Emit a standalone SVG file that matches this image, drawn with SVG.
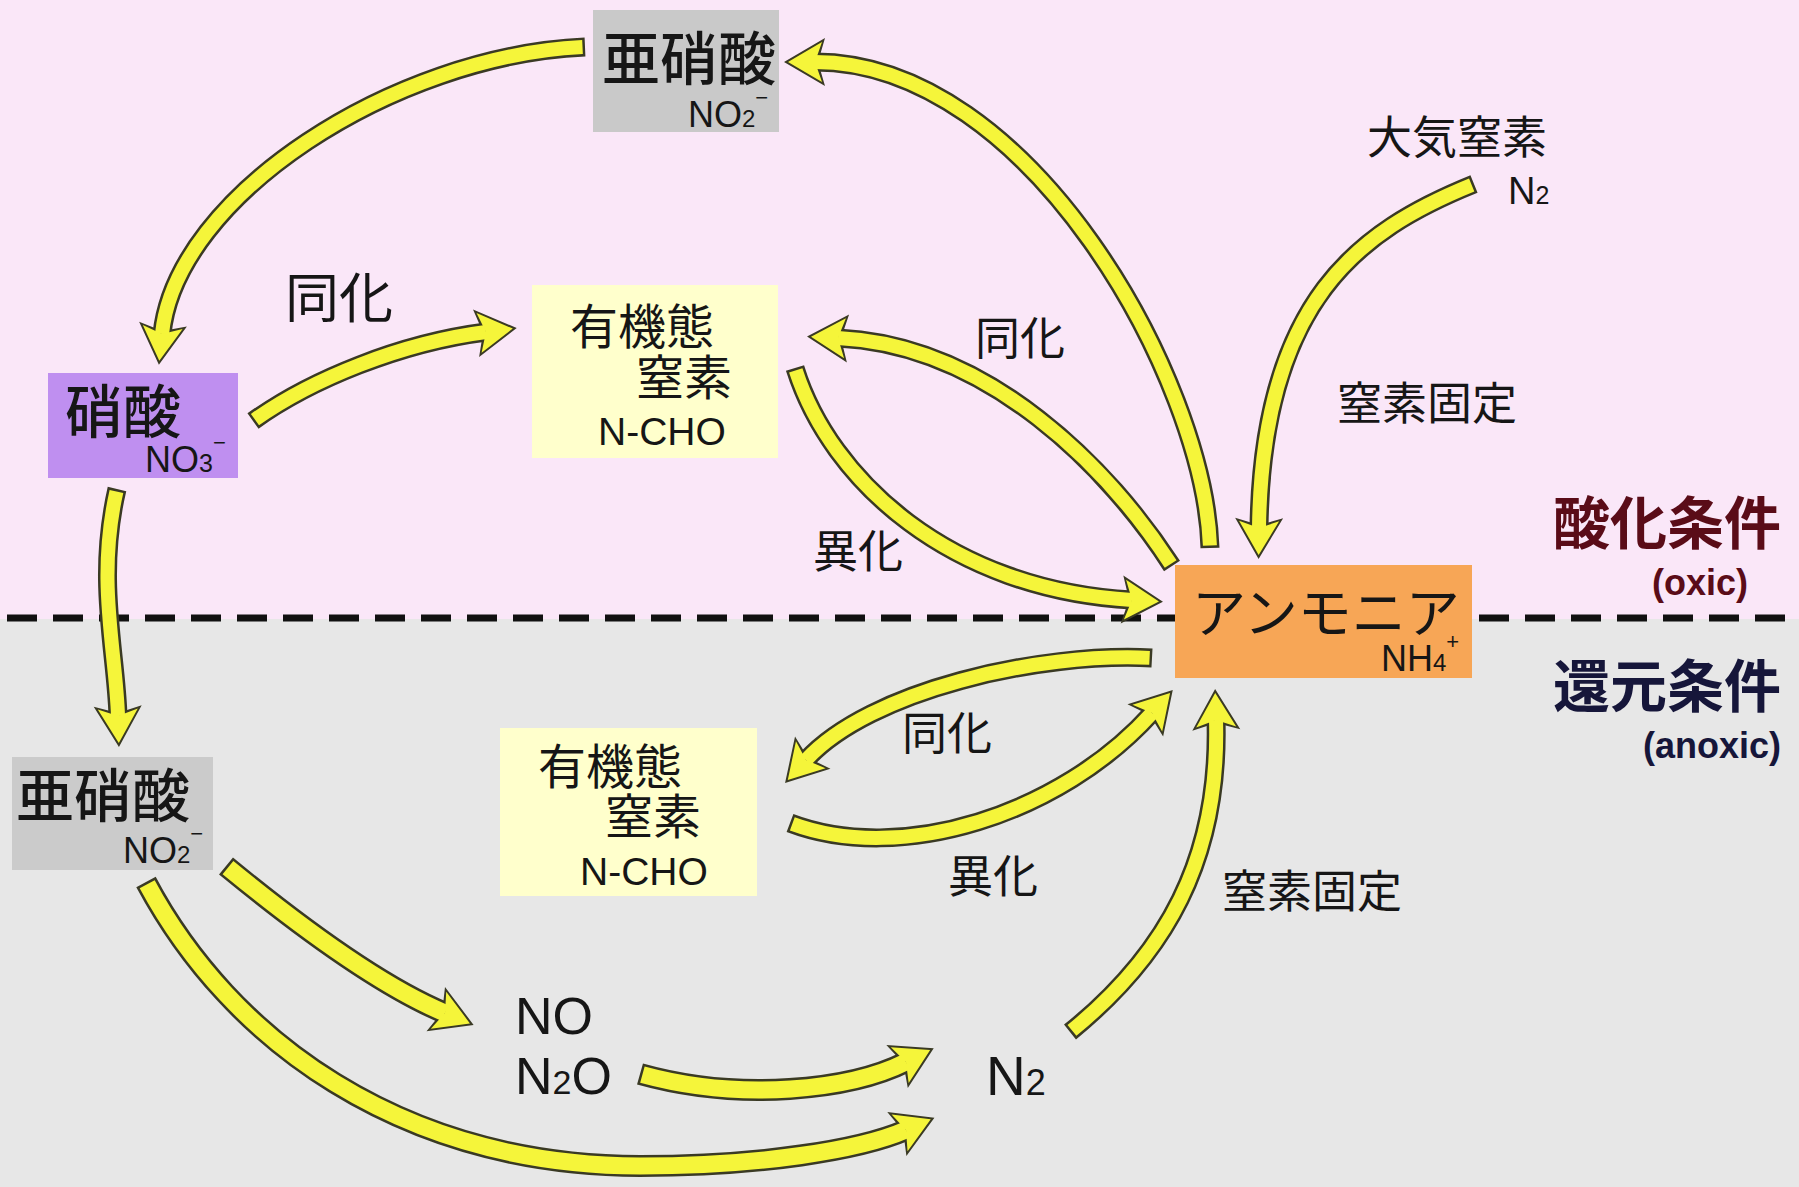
<svg xmlns="http://www.w3.org/2000/svg" width="1799" height="1187" viewBox="0 0 1799 1187">
<style>
.j{font-family:"Noto Sans CJK JP","Noto Sans CJK SC",sans-serif;fill:#161616}
.n{font-weight:500}
.l{font-family:"Liberation Sans",Arial,sans-serif;fill:#161616}
.o{fill:none;stroke:#3a3a24;stroke-width:19}
.i{fill:none;stroke:#f5f53a;stroke-width:14;stroke-dasharray:0 2.5 5000}
.t .o{stroke-width:22}
.t .i{stroke-width:17}
</style>
<defs>
<marker id="ho" viewBox="-8 -30 52 60" markerWidth="52" markerHeight="60" refX="7" refY="0" orient="auto" markerUnits="userSpaceOnUse" overflow="visible">
<path d="M-3,-24 L38,0 L-3,24 L4,0 Z" fill="#3a3a24"/>
</marker>
<marker id="hi" viewBox="-8 -30 52 60" markerWidth="52" markerHeight="60" refX="7" refY="0" orient="auto" markerUnits="userSpaceOnUse" overflow="visible">
<path d="M0,-20 L34,0 L0,20 L7,0 Z" fill="#f5f53a"/>
</marker>
</defs>

<g id="background">
<rect x="0" y="0" width="1799" height="619" fill="#fae7f8"/>
<rect x="0" y="619" width="1799" height="568" fill="#e7e7e7"/>
<line x1="0" y1="618" x2="1799" y2="618" stroke="#111" stroke-width="7" stroke-dasharray="30 16" stroke-dashoffset="-7"/>
</g>

<g id="connectors">
<g id="a-no2-no3"><path class="o" d="M585,47 C395,55 176,195 162,334" marker-end="url(#ho)"/><path class="i" d="M585,47 C395,55 176,195 162,334" marker-end="url(#hi)"/></g>
<g id="a-no3-org"><path class="o" d="M253,421 C310,380 400,343 486,332" marker-end="url(#ho)"/><path class="i" d="M253,421 C310,380 400,343 486,332" marker-end="url(#hi)"/></g>
<g id="a-no3-no2b"><path class="o" d="M117,489 C96,580 116,650 118,716" marker-end="url(#ho)"/><path class="i" d="M117,489 C96,580 116,650 118,716" marker-end="url(#hi)"/></g>
<g id="a-nh4-no2"><path class="o" d="M1210,548 C1205,380 1030,62 815,62" marker-end="url(#ho)"/><path class="i" d="M1210,548 C1205,380 1030,62 815,62" marker-end="url(#hi)"/></g>
<g id="a-n2-nh4"><path class="o" d="M1474,184 C1360,230 1262,300 1259,528" marker-end="url(#ho)"/><path class="i" d="M1474,184 C1360,230 1262,300 1259,528" marker-end="url(#hi)"/></g>
<g id="a-nh4-org"><path class="o" d="M1172,566 C1110,470 990,345 838,338" marker-end="url(#ho)"/><path class="i" d="M1172,566 C1110,470 990,345 838,338" marker-end="url(#hi)"/></g>
<g id="a-org-nh4"><path class="o" d="M795,368 C830,480 950,590 1132,600" marker-end="url(#ho)"/><path class="i" d="M795,368 C830,480 950,590 1132,600" marker-end="url(#hi)"/></g>
<g id="a-nh4-orgb"><path class="o" d="M1152,658 C1040,652 870,690 806,760" marker-end="url(#ho)"/><path class="i" d="M1152,658 C1040,652 870,690 806,760" marker-end="url(#hi)"/></g>
<g id="a-orgb-nh4"><path class="o" d="M790,823 C900,865 1060,815 1152,713" marker-end="url(#ho)"/><path class="i" d="M790,823 C900,865 1060,815 1152,713" marker-end="url(#hi)"/></g>
<g id="a-n2b-nh4"><path class="o" d="M1070,1032 C1165,955 1220,860 1216,720" marker-end="url(#ho)"/><path class="i" d="M1070,1032 C1165,955 1220,860 1216,720" marker-end="url(#hi)"/></g>
<g id="a-no2b-no" class="t"><path class="o" d="M226,866 C310,935 385,988 445,1013" marker-end="url(#ho)"/><path class="i" d="M226,866 C310,935 385,988 445,1013" marker-end="url(#hi)"/></g>
<g id="a-no2b-n2" class="t"><path class="o" d="M146,882 C230,1040 400,1165 640,1166 C760,1166 860,1150 906,1130" marker-end="url(#ho)"/><path class="i" d="M146,882 C230,1040 400,1165 640,1166 C760,1166 860,1150 906,1130" marker-end="url(#hi)"/></g>
<g id="a-n2o-n2" class="t"><path class="o" d="M640,1074 C740,1102 850,1090 906,1062" marker-end="url(#ho)"/><path class="i" d="M640,1074 C740,1102 850,1090 906,1062" marker-end="url(#hi)"/></g>
</g>

<g id="node-nitrite-top">
<rect x="593" y="10" width="186" height="122" fill="#c9c9c9"/>
<text class="j n" x="602" y="80" font-size="58">亜硝酸</text>
<text class="l" x="688" y="127" font-size="36">NO<tspan font-size="24">2</tspan><tspan font-size="22" dy="-22">−</tspan></text>
</g>

<g id="node-nitrate">
<rect x="48" y="373" width="190" height="105" fill="#bf8ff0"/>
<text class="j n" x="65" y="433" font-size="58">硝酸</text>
<text class="l" x="145" y="472" font-size="36">NO<tspan font-size="25">3</tspan><tspan font-size="22" dy="-22">−</tspan></text>
</g>

<g id="node-organic-top">
<rect x="532" y="285" width="246" height="173" fill="#ffffcc"/>
<text class="j" x="570" y="344" font-size="48">有機態</text>
<text class="j" x="636" y="395" font-size="48">窒素</text>
<text class="l" x="598" y="445" font-size="39">N-CHO</text>
</g>

<g id="node-ammonia">
<rect x="1175" y="565" width="297" height="113" fill="#f7a656"/>
<text class="j" x="1192" y="633" font-size="54">アンモニア</text>
<text class="l" x="1381" y="671" font-size="36">NH<tspan font-size="24">4</tspan><tspan font-size="22" dy="-22">+</tspan></text>
</g>

<g id="node-nitrite-bottom">
<rect x="12" y="757" width="201" height="113" fill="#cbcbcb"/>
<text class="j n" x="16" y="817" font-size="58">亜硝酸</text>
<text class="l" x="123" y="863" font-size="36">NO<tspan font-size="24">2</tspan><tspan font-size="22" dy="-22">−</tspan></text>
</g>

<g id="node-organic-bottom">
<rect x="500" y="728" width="257" height="168" fill="#ffffcc"/>
<text class="j" x="538" y="784" font-size="48">有機態</text>
<text class="j" x="605" y="834" font-size="48">窒素</text>
<text class="l" x="580" y="885" font-size="39">N-CHO</text>
</g>

<g id="node-atm-n2">
<text class="j" x="1367" y="154" font-size="45">大気窒素</text>
<text class="l" x="1508" y="204" font-size="38">N<tspan font-size="25">2</tspan></text>
</g>

<g id="node-no-n2o">
<text class="l" x="515" y="1034" font-size="52">NO</text>
<text class="l" x="515" y="1094" font-size="52">N<tspan font-size="34">2</tspan>O</text>
</g>

<g id="node-n2-bottom">
<text class="l" x="986" y="1095" font-size="55">N<tspan font-size="36">2</tspan></text>
</g>

<g id="labels">
<text class="j" x="285" y="318" font-size="54">同化</text>
<text class="j" x="975" y="355" font-size="45">同化</text>
<text class="j" x="813" y="568" font-size="45">異化</text>
<text class="j" x="1337" y="420" font-size="45">窒素固定</text>
<text class="j" x="902" y="750" font-size="45">同化</text>
<text class="j" x="948" y="893" font-size="45">異化</text>
<text class="j" x="1222" y="908" font-size="45">窒素固定</text>
<text class="j" x="1553" y="544" font-size="57" font-weight="bold" style="fill:#5a0c18">酸化条件</text>
<text class="l" x="1652" y="595" font-size="36" font-weight="bold" style="fill:#5a0c18">(oxic)</text>
<text class="j" x="1553" y="707" font-size="57" font-weight="bold" style="fill:#16163a">還元条件</text>
<text class="l" x="1643" y="758" font-size="36" font-weight="bold" style="fill:#16163a">(anoxic)</text>
</g>
</svg>
